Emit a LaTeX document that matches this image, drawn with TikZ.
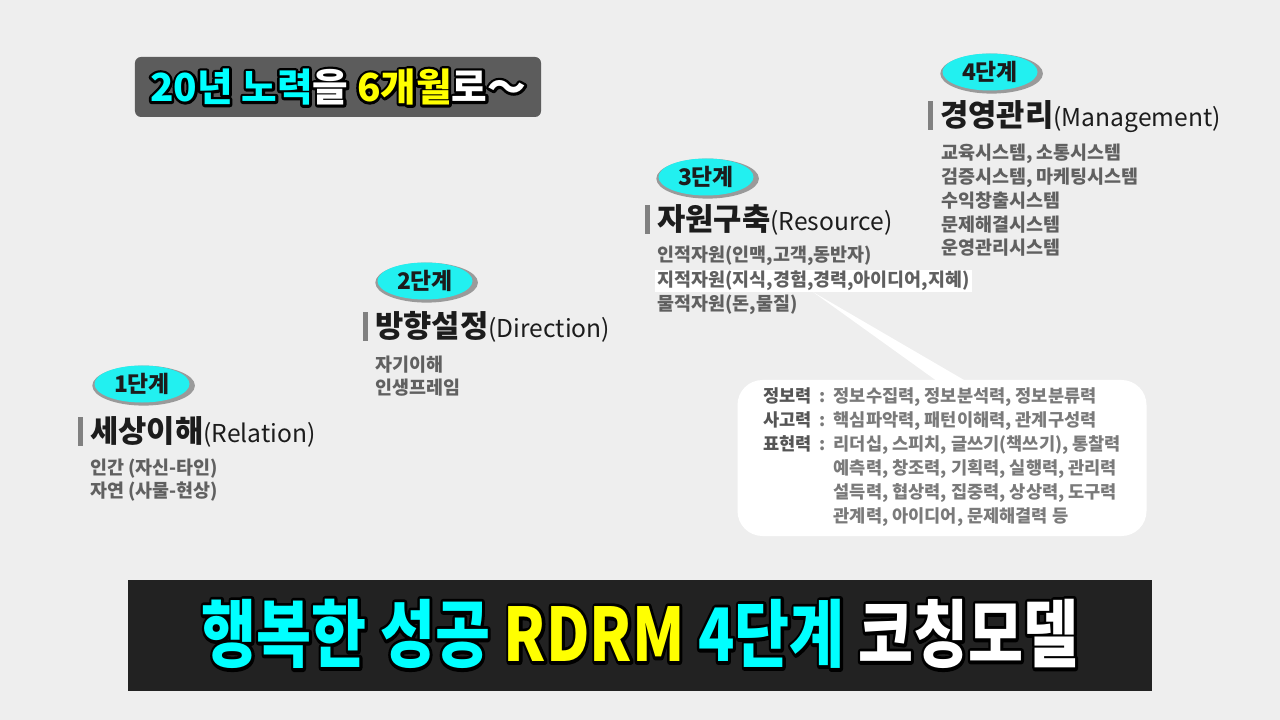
\documentclass[tikz,border=0pt]{standalone}
\usepackage{fontspec}
\setmainfont{Noto Sans CJK KR}
\usepackage{tikz}
\usetikzlibrary{positioning, shapes.geometric, shadows}

\definecolor{bgpaper}{HTML}{EEEEEE}
\definecolor{ovalcyan}{HTML}{22F0F0}
\definecolor{titlecyan}{HTML}{00FFFF}
\definecolor{titleyellow}{HTML}{FFFF00}
\definecolor{bannergray}{HTML}{5C5C5C}
\definecolor{titlebar}{HTML}{222222}
\definecolor{itemgray}{HTML}{606060}
\definecolor{headgray}{HTML}{1C1C1C}
\definecolor{bargray}{HTML}{808080}
\definecolor{labelgray}{HTML}{555555}
\definecolor{notegray}{HTML}{7A7A7A}

% coloured words, and a black stroked copy laid under them
\newcommand{\tint}[2]{\textcolor{#1}{#2}}
\newcommand{\strokecopy}[2]{{\renewcommand{\tint}[2]{##2}\color{black}\special{pdf:literal direct 1 Tr #1 w 1 j 0 0 0 RG}#2\special{pdf:literal direct 0 Tr}}}
\newcommand{\slogantext}{\tint{titlecyan}{20년 노력}\tint{white}{을} \tint{titleyellow}{6개월}\tint{white}{로～}}
\newcommand{\titletext}{\tint{titlecyan}{행복한 성공} \tint{titleyellow}{RDRM} \tint{titlecyan}{4단계} \tint{white}{코칭모델}}

\begin{document}
\begin{tikzpicture}[x=0.2mm, y=-0.2mm]
    \tikzstyle{stepoval} = [ellipse, fill=ovalcyan, minimum width=19mm, minimum height=7.4mm, inner sep=0pt, text=headgray, font=\bfseries\fontsize{13}{15}\selectfont, drop shadow={shadow xshift=0.3mm, shadow yshift=-0.3mm, shadow scale=1.08, fill=black, opacity=0.35}]
    \tikzstyle{headtext} = [anchor=west, inner sep=0pt, text=headgray, font=\fontsize{17.5}{20}\selectfont]
    \tikzstyle{itemtext} = [anchor=west, inner sep=0pt, align=left, text=itemgray, font=\bfseries\fontsize{10.5}{13.5}\selectfont]
    \tikzstyle{headbar} = [fill=bargray]
    \tikzstyle{bigtext} = [inner sep=0pt, font=\bfseries]

    \fill[bgpaper] (0,0) rectangle (1280,720);
    \useasboundingbox (0,0) rectangle (1280,720);

    % slogan
    \node[fill=bannergray, rounded corners=1.2mm, minimum width=81.2mm, minimum height=12mm, inner sep=0pt] (banner) at (338,87) {};
    \node[bigtext] (sloganline) at (banner) {\fontsize{22}{24}\selectfont\strokecopy{3}{\slogantext}};
    \node[bigtext] at (sloganline) {\fontsize{22}{24}\selectfont\slogantext};

    % step 1
    \node[stepoval] (oval1) at (142,384) {1단계};
    \fill[headbar] (78,417) rectangle (83,446);
    \node[headtext] (head1) at (90,432) {\textbf{세상이해}{\fontsize{14}{16}\selectfont(Relation)}};
    \node[itemtext] (items1) at (90,480) {인간 (자신-타인)\\자연 (사물-현상)};

    % step 2
    \node[stepoval] (oval2) at (425,281) {2단계};
    \fill[headbar] (363,312) rectangle (368,341);
    \node[headtext] (head2) at (375,327) {\textbf{방향설정}{\fontsize{14}{16}\selectfont(Direction)}};
    \node[itemtext] (items2) at (375,376) {자기이해\\인생프레임};

    % step 3
    \node[stepoval] (oval3) at (706,177) {3단계};
    \fill[headbar] (645,205) rectangle (650,234);
    \node[headtext] (head3) at (657,220) {\textbf{자원구축}{\fontsize{14}{16}\selectfont(Resource)}};
    \node[itemtext] (res1) at (657,256) {인적자원(인맥,고객,동반자)};
    \node[itemtext, fill=white, inner xsep=0.4mm, minimum height=4.4mm] (res2) at (655,281) {지적자원(지식,경험,경력,아이디어,지혜)};
    \node[itemtext] (res3) at (657,305) {물적자원(돈,물질)};

    % step 4
    \node[stepoval] (oval4) at (990,72) {4단계};
    \fill[headbar] (928,101) rectangle (933,130);
    \node[headtext] (head4) at (940,117) {\textbf{경영관리}{\fontsize{14}{16}\selectfont(Management)}};
    \node[itemtext] (items4) at (941,200.5) {교육시스템, 소통시스템\\검증시스템, 마케팅시스템\\수익창출시스템\\문제해결시스템\\운영관리시스템};

    % callout for res2
    \node[fill=white, rounded corners=5mm, minimum width=81.8mm, minimum height=31.2mm, inner sep=0pt] (bubble) at (942,458) {\fontsize{10}{13.66}\selectfont\bfseries
      \begin{tabular}{@{}l@{\hspace{1.6mm}}c@{\hspace{1.6mm}}l@{}}
        \color{labelgray}정보력 & \color{notegray}: & \color{notegray}정보수집력, 정보분석력, 정보분류력\\
        \color{labelgray}사고력 & \color{notegray}: & \color{notegray}핵심파악력, 패턴이해력, 관계구성력\\
        \color{labelgray}표현력 & \color{notegray}: & \color{notegray}리더십, 스피치, 글쓰기(책쓰기), 통찰력\\
        & & \color{notegray}예측력, 창조력, 기획력, 실행력, 관리력\\
        & & \color{notegray}설득력, 협상력, 집중력, 상상력, 도구력\\
        & & \color{notegray}관계력, 아이디어, 문제해결력 등
      \end{tabular}};
    \coordinate (wedgeL) at ([yshift=-1mm]bubble.north);
    \coordinate (wedgeR) at ([xshift=6mm, yshift=-1mm]bubble.north);
    \fill[white] (res2.south) -- (wedgeL) -- (wedgeR) -- cycle;

    % title
    \node[fill=titlebar, minimum width=204.8mm, minimum height=22.2mm, inner sep=0pt] (titlebox) at (640,635.5) {};
    \node[bigtext] (titleline) at (640,634) {\scalebox{0.81}[1]{\fontsize{42}{44}\selectfont\strokecopy{3.8}{\titletext}}};
    \node[bigtext] at (titleline) {\scalebox{0.81}[1]{\fontsize{42}{44}\selectfont\titletext}};
\end{tikzpicture}
\end{document}
